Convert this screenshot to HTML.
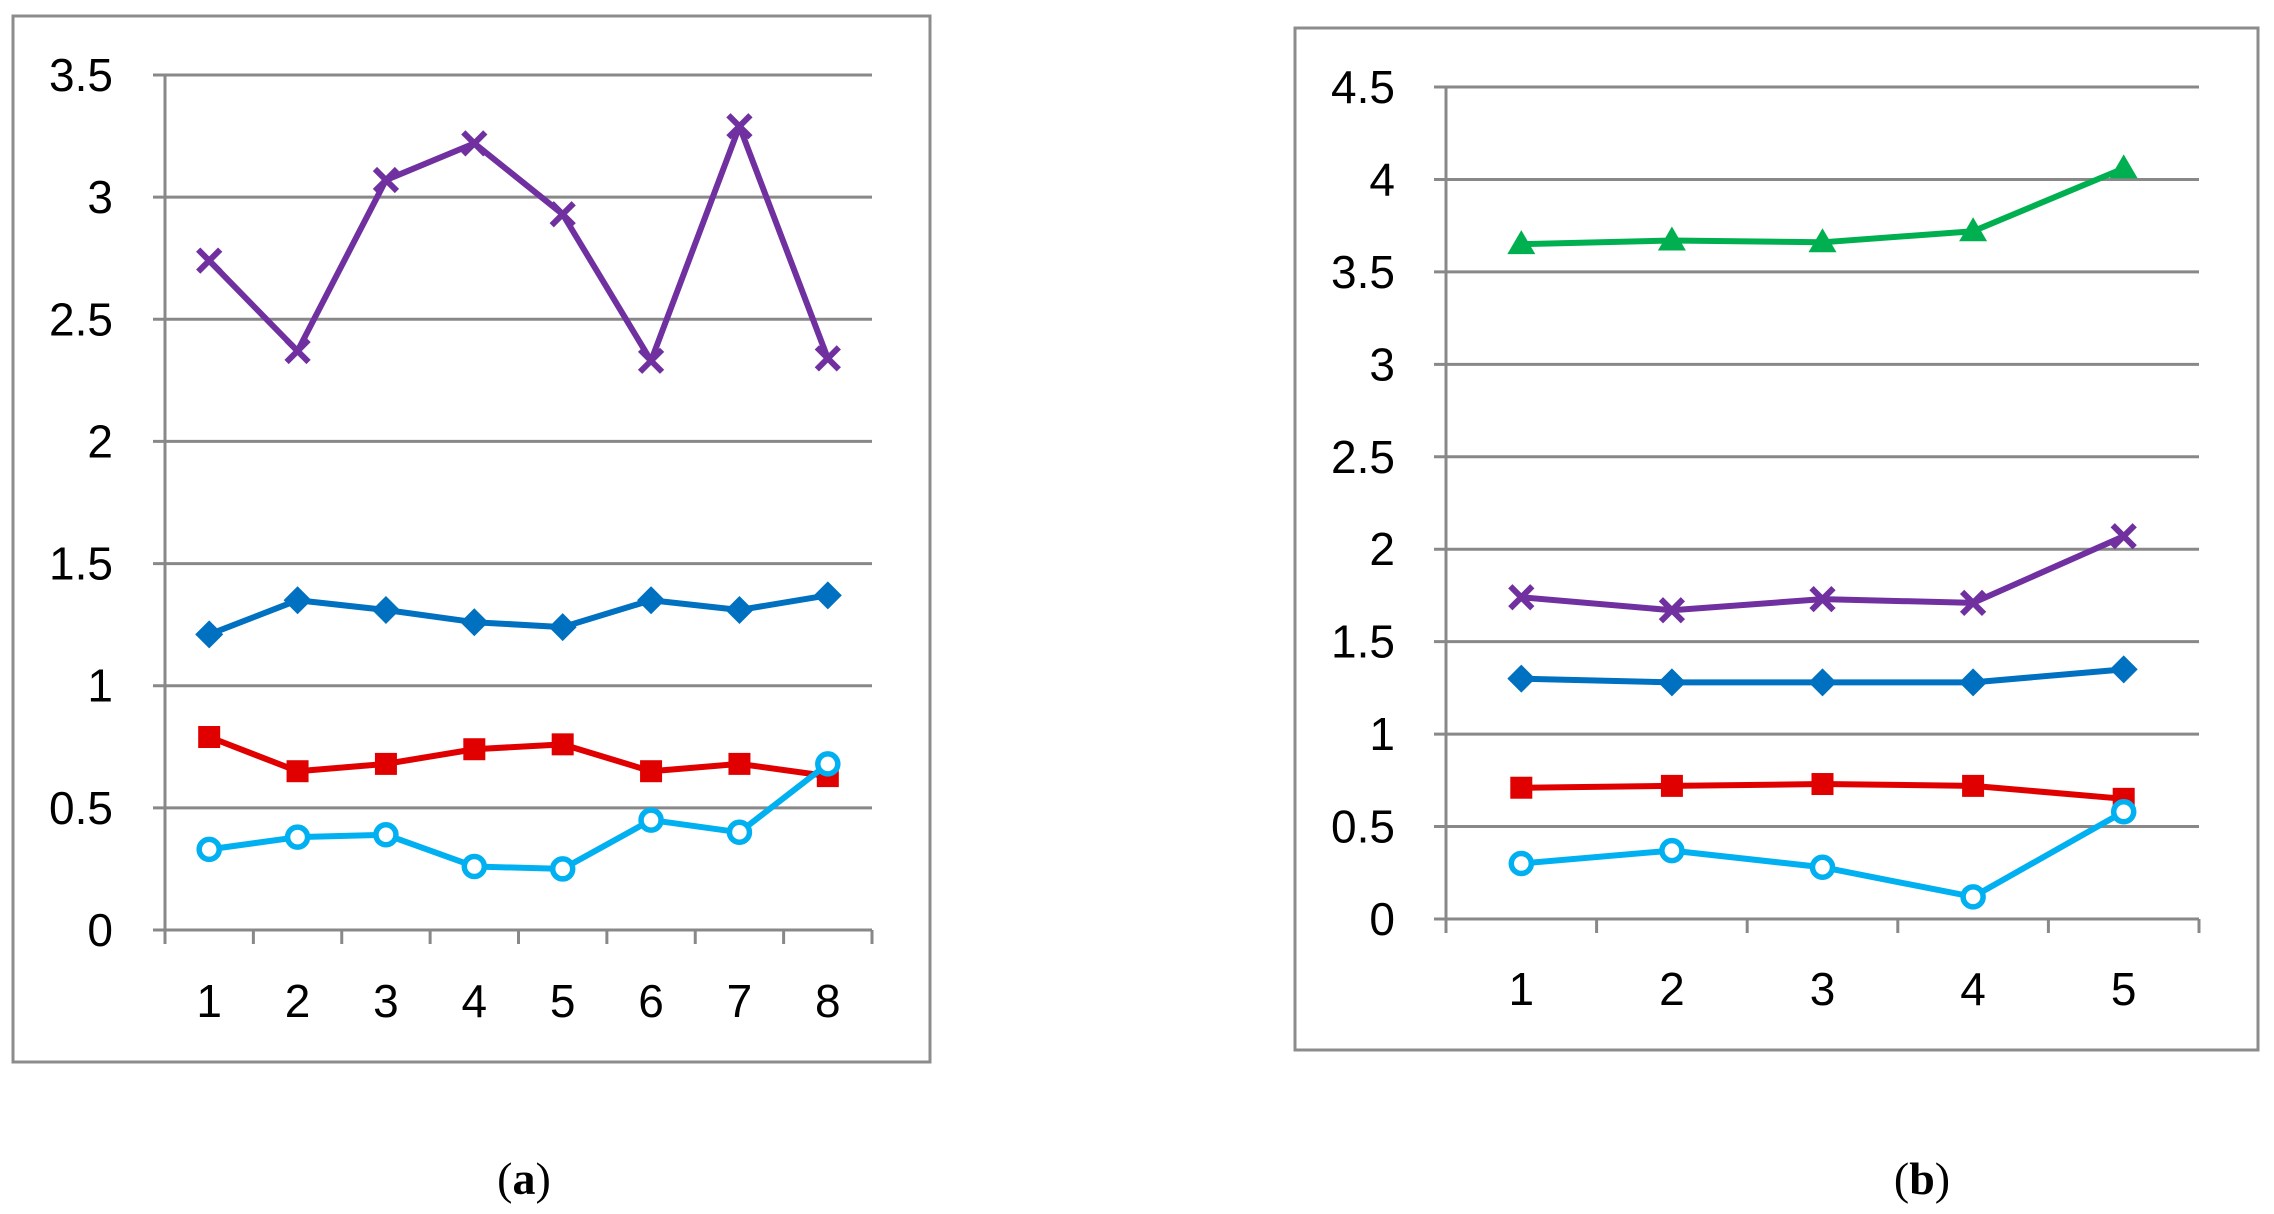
<!DOCTYPE html>
<html><head><meta charset="utf-8"><style>
html,body{margin:0;padding:0;background:#fff;}
svg{display:block;font-family:"Liberation Sans",sans-serif;}
</style></head><body>
<svg id="fig" width="2274" height="1214" viewBox="0 0 2274 1214">
<rect x="13" y="16" width="917" height="1046" fill="#fff" stroke="#8c8c8c" stroke-width="3"/>
<rect x="1295" y="28" width="963" height="1022" fill="#fff" stroke="#8c8c8c" stroke-width="3"/>
<text x="524" y="1194" text-anchor="middle" font-family="Liberation Serif,serif" font-size="46">(<tspan font-weight="bold">a</tspan>)</text>
<text x="1922" y="1194" text-anchor="middle" font-family="Liberation Serif,serif" font-size="46">(<tspan font-weight="bold">b</tspan>)</text>
</svg>
<script>
const catsA=["1","2","3","4","5","6","7","8"];
const ticksA=[0,0.5,1,1.5,2,2.5,3,3.5];
const purpleA=[2.74,2.37,3.07,3.22,2.93,2.33,3.29,2.34];
const blueA=[1.21,1.35,1.31,1.26,1.24,1.35,1.31,1.37];
const redA=[0.79,0.65,0.68,0.74,0.76,0.65,0.68,0.63];
const cyanA=[0.33,0.38,0.39,0.26,0.25,0.45,0.40,0.68];
const catsB=["1","2","3","4","5"];
const ticksB=[0,0.5,1,1.5,2,2.5,3,3.5,4,4.5];
const greenB=[3.65,3.67,3.66,3.72,4.06];
const purpleB=[1.74,1.67,1.73,1.71,2.07];
const blueB=[1.30,1.28,1.28,1.28,1.35];
const redB=[0.71,0.72,0.73,0.72,0.65];
const cyanB=[0.30,0.37,0.28,0.12,0.58];

const NS="http://www.w3.org/2000/svg";
const svg=document.getElementById('fig');
function mk(tag,attrs,parent){const e=document.createElementNS(NS,tag);for(const k in attrs)e.setAttribute(k,attrs[k]);(parent||svg).appendChild(e);return e;}

function chart(id,cfg,cats,ticks,series){
  const g=mk('g',{});
  
  
  const ymax=ticks[ticks.length-1];
  const y=v=>cfg.y0-(v/ymax)*(cfg.y0-cfg.ytop);
  const bw=(cfg.x1-cfg.x0)/cats.length;
  const x=i=>cfg.x0+bw*(i+0.5);
  ticks.forEach(t=>{
    const l=mk('line',{x1:cfg.x0-12,x2:cfg.x1,y1:y(t),y2:y(t),stroke:'#888',"stroke-width":3},g);
    
    
    const tx=mk('text',{x:cfg.lx,y:y(t)+16,"text-anchor":'end',"font-size":46,fill:'#000'},g);
    tx.textContent=String(t);
    
    
  });
  const ax=mk('line',{x1:cfg.x0,x2:cfg.x0,y1:cfg.ytop,y2:cfg.y0+14,stroke:'#888',"stroke-width":3},g);
  
  
  for(let i=0;i<=cats.length;i++){
    const tk=mk('line',{x1:cfg.x0+bw*i,x2:cfg.x0+bw*i,y1:cfg.y0,y2:cfg.y0+14,stroke:'#888',"stroke-width":3},g);
    
    
  }
  cats.forEach((c,i)=>{
    const tx=mk('text',{x:x(i),y:cfg.ly,"text-anchor":'middle',"font-size":46,fill:'#000'},g);
    tx.textContent=c;
    
    
  });
  series.forEach(s=>{
    const sg=mk('g',{},g);
    
    
    const pts=s.vals.map((v,i)=>x(i)+','+y(v)).join(' ');
    const pl=mk('polyline',{points:pts,fill:'none',stroke:s.color,"stroke-width":6,"stroke-linejoin":'round'},sg);
    
    
    s.vals.forEach((v,i)=>{
      const cx=x(i),cy=y(v);let m;
      if(s.marker==='x'){
        m=mk('path',{d:`M${cx-11},${cy-11}L${cx+11},${cy+11}M${cx-11},${cy+11}L${cx+11},${cy-11}`,stroke:s.color,"stroke-width":6,fill:'none'},sg);
      }else if(s.marker==='diamond'){
        m=mk('path',{d:`M${cx},${cy-14}L${cx+14},${cy}L${cx},${cy+14}L${cx-14},${cy}Z`,fill:s.color},sg);
      }else if(s.marker==='square'){
        m=mk('rect',{x:cx-11,y:cy-11,width:22,height:22,fill:s.color},sg);
      }else if(s.marker==='circle'){
        m=mk('circle',{cx:cx,cy:cy,r:10,fill:'#fff',stroke:s.color,"stroke-width":5.5},sg);
      }else{
        m=mk('path',{d:`M${cx},${cy-14}L${cx+14},${cy+10}L${cx-14},${cy+10}Z`,fill:s.color},sg);
      }
      
      
    });
  });
}
chart('chart-a',{x0:165,x1:872,ytop:75,y0:930,lx:113,ly:1017},catsA,ticksA,[
  {name:'purple-series',vals:purpleA,color:'#7030a0',marker:'x'},
  {name:'blue-series',vals:blueA,color:'#0070c0',marker:'diamond'},
  {name:'red-series',vals:redA,color:'#e00000',marker:'square'},
  {name:'cyan-series',vals:cyanA,color:'#00b0f0',marker:'circle'}]);
chart('chart-b',{x0:1446,x1:2199,ytop:87,y0:919,lx:1395,ly:1005},catsB,ticksB,[
  {name:'green-series',vals:greenB,color:'#00b050',marker:'tri'},
  {name:'purple-series',vals:purpleB,color:'#7030a0',marker:'x'},
  {name:'blue-series',vals:blueB,color:'#0070c0',marker:'diamond'},
  {name:'red-series',vals:redB,color:'#e00000',marker:'square'},
  {name:'cyan-series',vals:cyanB,color:'#00b0f0',marker:'circle'}]);
</script>
</body></html>
